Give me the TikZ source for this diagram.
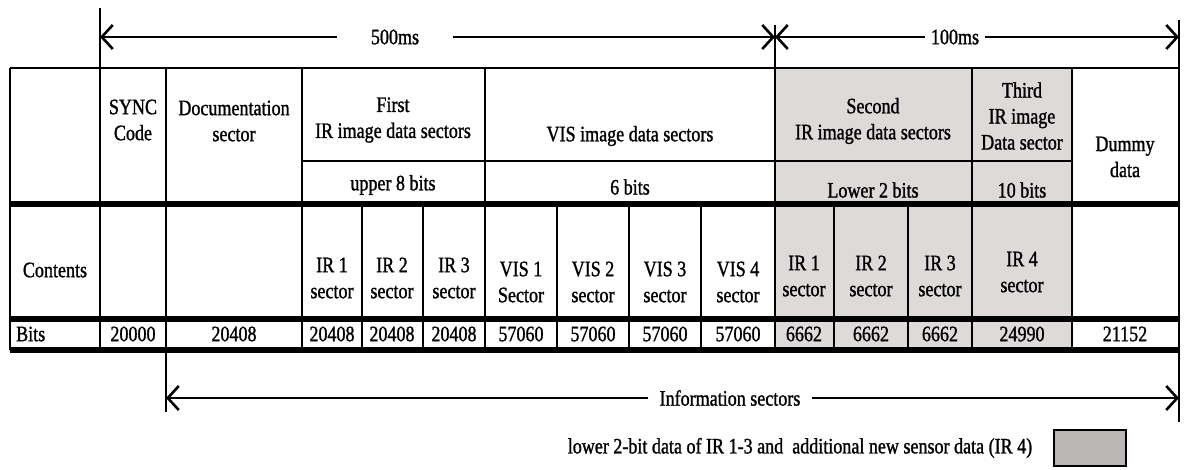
\documentclass[tikz,border=0pt]{standalone}
\usepackage{fontspec}
\setmainfont{Liberation Serif}[FakeStretch=0.82, FakeBold=1.2]
\usepackage{tikz}
\usetikzlibrary{arrows.meta,positioning}
\definecolor{irshade}{RGB}{222,218,218}
\definecolor{keyshade}{RGB}{186,182,182}

\begin{document}
\begin{tikzpicture}[x=1pt, y=-1pt,
    cell/.style={align=center, inner sep=0pt, font=\fontsize{22}{26}\selectfont},
    label/.style={inner ysep=0pt, font=\fontsize{22}{26}\selectfont},
    grid/.style={draw, line width=2.8pt},
    heavy/.style={draw, line width=5.5pt},
    dim/.style={draw, line width=2.6pt, -{Straight Barb[length=11pt,width=24pt]}}]

    \useasboundingbox (0,0) rectangle (1185,470);

    % ====== Shaded IR sectors ======
    \fill [irshade] (775,68) rectangle (1072,350);

    % ====== Grid ======
    \path [grid] (10,68) -- (1179,68);
    \path [grid] (302,161) -- (1072,161);
    \path [heavy] (10,204) -- (1179,204);
    \path [heavy] (10,319) -- (1179,319);
    \path [heavy] (10,350) -- (1179,350);

    \path [grid] (10,68) -- (10,350);
    \path [grid] (100,8) -- (100,350);
    \path [grid] (166,68) -- (166,412);
    \path [grid] (302,68) -- (302,350);
    \path [grid] (362,204) -- (362,350);
    \path [grid] (423,204) -- (423,350);
    \path [grid] (485,68) -- (485,350);
    \path [grid] (557,204) -- (557,350);
    \path [grid] (629,204) -- (629,350);
    \path [grid] (701,204) -- (701,350);
    \path [grid] (775,25) -- (775,350);
    \path [grid] (834,204) -- (834,350);
    \path [grid] (908,204) -- (908,350);
    \path [grid] (972,68) -- (972,350);
    \path [grid] (1072,68) -- (1072,350);
    \path [grid] (1179,20) -- (1179,422);

    % ====== Header ======
    \node [cell] (sync)     at (133,120)  {SYNC\\Code};
    \node [cell] (doc)      at (234,121)  {Documentation\\sector};
    \node [cell] (irfirst)  at (393,120)  {First\\IR image data sectors};
    \node [cell] (vishead)  at (630,136)  {VIS image data sectors};
    \node [cell] (irsecond) at (873,121)  {Second\\IR image data sectors};
    \node [cell] (irthird)  at (1022,116) {Third\\IR image\\Data sector};
    \node [cell] (dummy)    at (1125,157) {Dummy\\data};

    \node [cell] (upper) at (393,185)  {upper 8 bits};
    \node [cell] (six)   at (630,187)  {6 bits};
    \node [cell] (lower) at (873,190)  {Lower 2 bits};
    \node [cell] (ten)   at (1022,190) {10 bits};

    % ====== Contents ======
    \node [cell] (contents) at (55,270) {Contents};
    \node [cell] (ira)  at (332,278)  {IR 1\\sector};
    \node [cell] (irb)  at (392,278)  {IR 2\\sector};
    \node [cell] (irc)  at (454,278)  {IR 3\\sector};
    \node [cell] (visa) at (521,282)  {VIS 1\\Sector};
    \node [cell] (visb) at (593,282)  {VIS 2\\sector};
    \node [cell] (visc) at (665,282)  {VIS 3\\sector};
    \node [cell] (visd) at (738,282)  {VIS 4\\sector};
    \node [cell] (ird)  at (804,276)  {IR 1\\sector};
    \node [cell] (ire)  at (871,276)  {IR 2\\sector};
    \node [cell] (irf)  at (940,276)  {IR 3\\sector};
    \node [cell] (irg)  at (1022,272) {IR 4\\sector};

    % ====== Bits ======
    \node [cell, anchor=west] (bits) at (16,334) {Bits};
    \node [cell] (bsync) at (133,334)  {20000};
    \node [cell] (bdoc)  at (234,334)  {20408};
    \node [cell] (bira)  at (332,334)  {20408};
    \node [cell] (birb)  at (392,334)  {20408};
    \node [cell] (birc)  at (454,334)  {20408};
    \node [cell] (bvisa) at (521,334)  {57060};
    \node [cell] (bvisb) at (593,334)  {57060};
    \node [cell] (bvisc) at (665,334)  {57060};
    \node [cell] (bvisd) at (738,334)  {57060};
    \node [cell] (bird)  at (804,334)  {6662};
    \node [cell] (bire)  at (871,334)  {6662};
    \node [cell] (birf)  at (940,334)  {6662};
    \node [cell] (birg)  at (1022,334) {24990};
    \node [cell] (bdum)  at (1125,334) {21152};

    % ====== Time spans ======
    \coordinate (frameL) at (100,37);
    \coordinate (frameM) at (775,37);
    \coordinate (frameR) at (1179,37);
    \node [label, inner xsep=34pt] (t500) at (395,37) {500ms};
    \node [label, inner xsep=6pt]  (t100) at (955,37) {100ms};
    \path [dim] (t500.west) -- (frameL);
    \path [dim] (t500.east) -- (frameM);
    \path [dim] (t100.west) -- (frameM);
    \path [dim] (t100.east) -- (frameR);

    \coordinate (infoL) at (166,398);
    \coordinate (infoR) at (1179,398);
    \node [label, inner xsep=11pt] (info) at (730,398) {Information sectors};
    \path [dim] (info.west) -- (infoL);
    \path [dim] (info.east) -- (infoR);

    % ====== Key ======
    \node [label] (keytext) at (800,448)
        {lower 2-bit data of IR 1-3 and\ \ additional new sensor data (IR 4)};
    \node [draw, line width=2pt, fill=keyshade, minimum width=72pt,
        minimum height=36pt, right=17pt of keytext] (keybox) {};
\end{tikzpicture}
\end{document}
